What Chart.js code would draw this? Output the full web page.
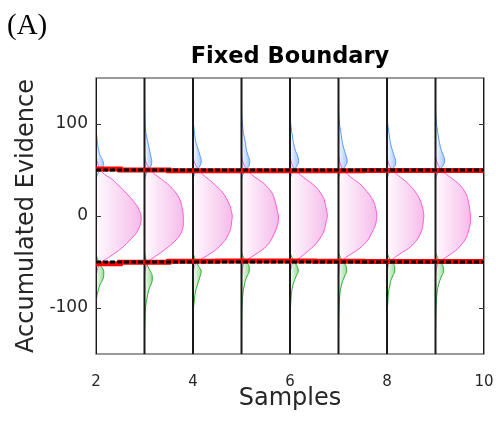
<!DOCTYPE html>
<html>
<head>
<meta charset="utf-8">
<script src="https://cdn.jsdelivr.net/npm/chart.js@4.4.0/dist/chart.umd.min.js"></script>
<style>
  html, body { margin: 0; padding: 0; background: #fff; }
</style>
</head>
<body>
<canvas id="myChart" width="496" height="433"></canvas>
<script>
// sample positions (x) and axis ticks
const samples = [2, 3, 4, 5, 6, 7, 8, 9, 10];
const densitySamples = [2, 3, 4, 5, 6, 7, 8, 9];
const xTicks = [2, 4, 6, 8, 10];
const yTicks = [-100, 0, 100];

// boundaries
const boundary = 50;
const upperEstimate = [51, 50, 49.3, 49.2, 49.2, 49.3, 49.4, 49.5, 49.5];
const lowerEstimate = [-51.8, -50.4, -49.3, -49, -49, -49.2, -49.4, -49.5, -49.5];

// density of evidence still inside the bounds (width in sample units)
const midLevels = [66, 60, 55, 50, 45, 40, 35, 30, 25, 20, 15, 10, 5, 0, -5, -10, -15, -20, -25, -30, -35, -40, -45, -50, -55, -60, -66];
const midDensity = [
    [0, 0.02, 0.05, 0.09, 0.18, 0.33, 0.43, 0.53, 0.62, 0.71, 0.79, 0.86, 0.90, 0.93, 0.93, 0.91, 0.87, 0.81, 0.72, 0.63, 0.53, 0.40, 0.26, 0.11, 0.05, 0.02, 0],
    [0, 0.02, 0.06, 0.12, 0.22, 0.35, 0.47, 0.57, 0.65, 0.71, 0.75, 0.77, 0.79, 0.80, 0.80, 0.80, 0.78, 0.74, 0.67, 0.57, 0.46, 0.33, 0.19, 0.06, 0.03, 0.01, 0],
    [0, 0.02, 0.06, 0.12, 0.20, 0.32, 0.43, 0.53, 0.62, 0.68, 0.73, 0.77, 0.79, 0.81, 0.80, 0.79, 0.77, 0.73, 0.68, 0.60, 0.51, 0.38, 0.23, 0.08, 0.03, 0.01, 0],
    [0, 0.02, 0.06, 0.12, 0.21, 0.34, 0.47, 0.56, 0.63, 0.67, 0.70, 0.72, 0.74, 0.76, 0.76, 0.74, 0.71, 0.67, 0.62, 0.56, 0.47, 0.34, 0.19, 0.07, 0.03, 0.01, 0],
    [0, 0.02, 0.05, 0.11, 0.21, 0.33, 0.46, 0.56, 0.63, 0.69, 0.72, 0.74, 0.76, 0.77, 0.75, 0.73, 0.71, 0.67, 0.61, 0.54, 0.44, 0.33, 0.21, 0.07, 0.03, 0.01, 0],
    [0, 0.02, 0.05, 0.10, 0.19, 0.31, 0.44, 0.53, 0.61, 0.68, 0.73, 0.76, 0.78, 0.79, 0.78, 0.76, 0.72, 0.67, 0.62, 0.54, 0.44, 0.30, 0.15, 0.05, 0.02, 0.01, 0],
    [0, 0.02, 0.05, 0.11, 0.21, 0.33, 0.44, 0.53, 0.60, 0.66, 0.70, 0.73, 0.75, 0.76, 0.75, 0.74, 0.72, 0.68, 0.63, 0.55, 0.45, 0.30, 0.16, 0.06, 0.02, 0.01, 0],
    [0, 0.02, 0.06, 0.12, 0.23, 0.36, 0.48, 0.56, 0.62, 0.66, 0.68, 0.70, 0.71, 0.72, 0.72, 0.71, 0.69, 0.66, 0.62, 0.55, 0.47, 0.35, 0.21, 0.08, 0.03, 0.01, 0]
];

// density of trials that crossed the upper bound
const upLevels = [125, 110, 100, 90, 80, 75, 70, 65, 60, 55, 50, 45, 40];
const upDensity = [
    [0, 0, 0.005, 0.01, 0.03, 0.04, 0.06, 0.09, 0.14, 0.16, 0.09, 0.03, 0],
    [0, 0.005, 0.01, 0.03, 0.07, 0.09, 0.11, 0.13, 0.15, 0.14, 0.08, 0.03, 0],
    [0, 0.005, 0.01, 0.03, 0.06, 0.09, 0.12, 0.15, 0.17, 0.15, 0.08, 0.03, 0],
    [0, 0.005, 0.02, 0.04, 0.08, 0.09, 0.11, 0.14, 0.17, 0.16, 0.09, 0.03, 0],
    [0, 0.005, 0.015, 0.04, 0.07, 0.09, 0.12, 0.16, 0.18, 0.15, 0.08, 0.03, 0],
    [0, 0.005, 0.02, 0.05, 0.08, 0.10, 0.13, 0.16, 0.18, 0.15, 0.08, 0.02, 0],
    [0, 0.005, 0.015, 0.04, 0.07, 0.09, 0.12, 0.15, 0.18, 0.17, 0.09, 0.03, 0],
    [0, 0.005, 0.02, 0.05, 0.08, 0.10, 0.13, 0.17, 0.19, 0.16, 0.08, 0.03, 0]
];

// density of trials that crossed the lower bound
const lowLevels = [-40, -45, -50, -55, -60, -65, -70, -75, -80, -90, -100, -110, -125];
const lowDensity = [
    [0, 0.02, 0.06, 0.11, 0.16, 0.16, 0.13, 0.08, 0.05, 0.01, 0.005, 0, 0],
    [0, 0.02, 0.04, 0.07, 0.12, 0.16, 0.16, 0.13, 0.09, 0.05, 0.02, 0.01, 0],
    [0, 0.03, 0.07, 0.12, 0.17, 0.15, 0.12, 0.09, 0.06, 0.03, 0.01, 0.005, 0],
    [0, 0.04, 0.10, 0.16, 0.16, 0.12, 0.08, 0.06, 0.04, 0.02, 0.01, 0.005, 0],
    [0, 0.04, 0.09, 0.15, 0.17, 0.13, 0.09, 0.06, 0.04, 0.02, 0.01, 0.005, 0],
    [0, 0.04, 0.10, 0.16, 0.17, 0.13, 0.09, 0.06, 0.04, 0.02, 0.01, 0.005, 0],
    [0, 0.04, 0.10, 0.16, 0.16, 0.12, 0.08, 0.06, 0.04, 0.02, 0.01, 0.005, 0],
    [0, 0.04, 0.10, 0.16, 0.17, 0.13, 0.09, 0.06, 0.04, 0.02, 0.01, 0.005, 0]
];

// horizontal gradient from the sample line out to the widest point of the density
const sideGradient = (s, widths, startColor, endColor) => (context) => {
    const chart = context.chart;
    if (!chart.chartArea) return endColor;
    const xs = chart.scales.x;
    const peak = Math.max(...widths);
    const g = chart.ctx.createLinearGradient(xs.getPixelForValue(s), 0, xs.getPixelForValue(s + peak), 0);
    g.addColorStop(0, startColor);
    g.addColorStop(1, endColor);
    return g;
};

const densityDataset = (s, levels, widths, line, fillStart, fillEnd, order) => ({
    data: levels.map((v, i) => ({ x: s + widths[i], y: v })),
    indexAxis: 'y',
    borderColor: line,
    borderWidth: 1,
    backgroundColor: sideGradient(s, widths, fillStart, fillEnd),
    fill: { value: s },
    pointRadius: 0,
    cubicInterpolationMode: 'monotone',
    order: order
});

const datasets = [];

densitySamples.forEach((s, k) => {
    datasets.push(densityDataset(s, midLevels, midDensity[k], '#ff5ad6', 'rgba(238,120,215,0.04)', 'rgba(238,120,215,0.5)', 5));
    datasets.push(densityDataset(s, upLevels, upDensity[k], '#5c9dff', 'rgba(110,160,255,0.05)', 'rgba(110,160,255,0.6)', 4));
    datasets.push(densityDataset(s, lowLevels, lowDensity[k], '#2fb02f', 'rgba(90,195,90,0.05)', 'rgba(90,195,90,0.6)', 4));
});

samples.forEach(s => {
    datasets.push({
        data: [{ x: s, y: -150 }, { x: s, y: 150 }],
        borderColor: '#1a1a1a',
        borderWidth: 2,
        pointRadius: 0,
        fill: false,
        order: 3
    });
});

[upperEstimate, lowerEstimate].forEach(est => {
    datasets.push({
        data: samples.map((s, i) => ({ x: s, y: est[i] })),
        borderColor: '#ff0000',
        borderWidth: 5,
        stepped: 'middle',
        pointRadius: 0,
        fill: false,
        order: 2
    });
});

[boundary, -boundary].forEach(b => {
    datasets.push({
        data: [{ x: samples[0], y: b }, { x: samples[samples.length - 1], y: b }],
        borderColor: '#000000',
        borderWidth: 3,
        borderDash: [5, 2],
        pointRadius: 0,
        fill: false,
        order: 1
    });
});

// frame, inward ticks and panel letter
const framePlugin = {
    id: 'frame',
    beforeDatasetsDraw(chart) {
        const { ctx, chartArea: a } = chart;
        ctx.save();
        ctx.strokeStyle = '#7a7a7a';
        ctx.lineWidth = 1.5;
        ctx.strokeRect(a.left, a.top, a.right - a.left, a.bottom - a.top);
        ctx.restore();
    },
    afterDatasetsDraw(chart) {
        const { ctx, chartArea: a } = chart;
        const ys = chart.scales.y;
        ctx.save();
        ctx.strokeStyle = '#333';
        ctx.lineWidth = 1.2;
        yTicks.forEach(v => {
            const p = Math.round(ys.getPixelForValue(v)) + 0.5;
            ctx.beginPath();
            ctx.moveTo(a.left, p); ctx.lineTo(a.left + 5, p);
            ctx.moveTo(a.right - 5, p); ctx.lineTo(a.right, p);
            ctx.stroke();
        });
        ctx.restore();
    },
    afterDraw(chart) {
        const ctx = chart.ctx;
        ctx.save();
        ctx.fillStyle = '#000';
        ctx.font = '29px "Liberation Serif", serif';
        ctx.textBaseline = 'alphabetic';
        ctx.textAlign = 'left';
        ctx.fillText('(A)', 7, 34);
        ctx.restore();
    }
};

new Chart(document.getElementById('myChart'), {
    type: 'line',
    data: { datasets },
    plugins: [framePlugin],
    options: {
        responsive: false,
        devicePixelRatio: 1,
        animation: false,
        layout: { padding: { left: 0, right: 12, top: 0, bottom: 0 } },
        plugins: {
            legend: { display: false },
            tooltip: { enabled: false },
            title: {
                display: true,
                text: 'Fixed Boundary',
                fullSize: false,
                color: '#000',
                font: { family: '"DejaVu Sans", sans-serif', size: 22.5, weight: 'bold' },
                padding: { top: 44, bottom: 7 }
            }
        },
        scales: {
            x: {
                type: 'linear',
                min: 2,
                max: 10,
                afterBuildTicks: scale => { scale.ticks = xTicks.map(v => ({ value: v })); },
                afterFit: scale => {
                    scale.height = 79;
                    scale.paddingLeft = 0;
                    scale.paddingRight = 0;
                },
                grid: { display: false, drawTicks: false },
                border: { display: false },
                ticks: {
                    color: '#262626',
                    padding: 19,
                    font: { family: '"DejaVu Sans", sans-serif', size: 15 }
                },
                title: {
                    display: true,
                    text: 'Samples',
                    color: '#262626',
                    font: { family: '"DejaVu Sans", sans-serif', size: 24 },
                    padding: { top: 0, bottom: 20 }
                }
            },
            y: {
                type: 'linear',
                min: -150,
                max: 150,
                afterBuildTicks: scale => { scale.ticks = yTicks.map(v => ({ value: v })); },
                afterFit: scale => {
                    scale.width = 96;
                    scale.paddingTop = 0;
                    scale.paddingBottom = 0;
                },
                grid: { display: false, drawTicks: false },
                border: { display: false },
                ticks: {
                    color: '#262626',
                    padding: 8,
                    font: { family: '"DejaVu Sans", sans-serif', size: 17 }
                },
                title: {
                    display: true,
                    text: 'Accumulated Evidence',
                    color: '#262626',
                    font: { family: '"DejaVu Sans", sans-serif', size: 24 },
                    padding: { top: 12.6, bottom: 0 }
                }
            }
        }
    }
});
</script>
</body>
</html>
